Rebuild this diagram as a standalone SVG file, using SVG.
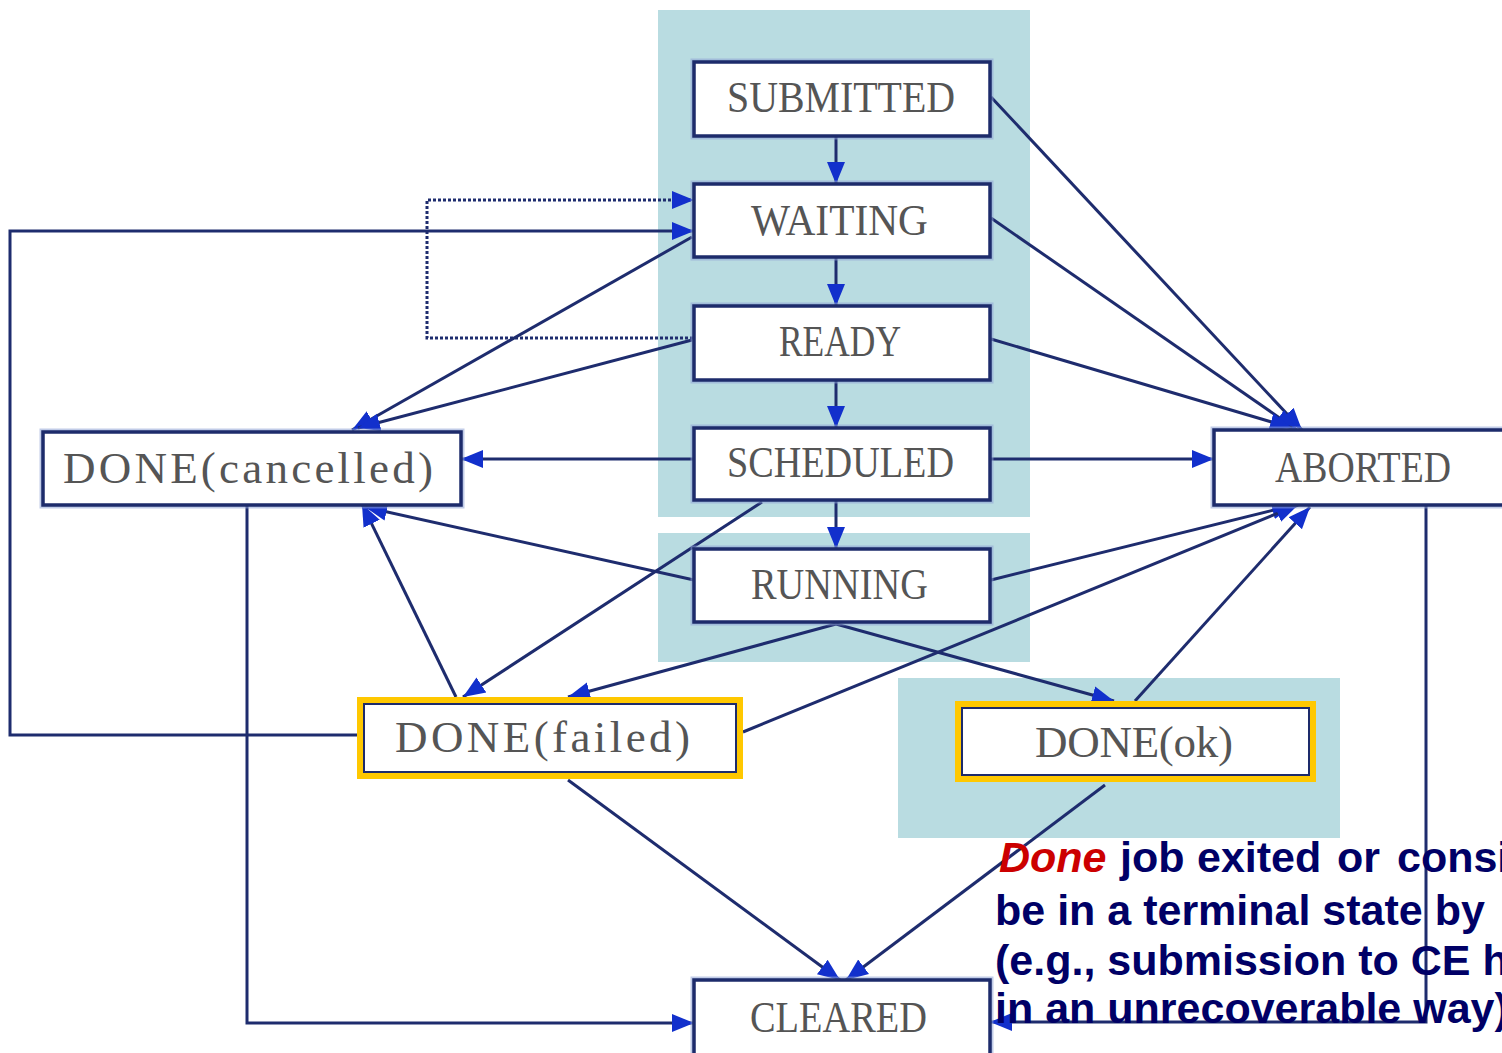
<svg xmlns="http://www.w3.org/2000/svg" width="1502" height="1053" viewBox="0 0 1502 1053">
  <style>
    .panel { fill: #b9dce1; }
    .box { fill: #ffffff; stroke: #1d2b6b; stroke-width: 3.5; }
    .halo { fill: none; stroke: #8ea3d6; stroke-width: 7; opacity: 0.55; }
    .done { fill: none; stroke: #ffc800; stroke-width: 6; }
    .inner { fill: #ffffff; stroke: #1d2b6b; stroke-width: 2; }
    .label { font-family: "Liberation Serif", "Times New Roman", serif; font-size: 45px; fill: #555555; }
    .edge { fill: none; stroke: #1e2c6e; stroke-width: 3; marker-end: url(#arrow); }
    .dotted { fill: none; stroke: #1e2c6e; stroke-width: 3; stroke-dasharray: 3 2; marker-end: url(#arrow); }
    .note { font-family: "Liberation Sans", Arial, sans-serif; font-size: 43px; font-weight: bold; fill: #000066; }
    .hl { fill: #cc0000; font-style: italic; }
  </style>
  <defs>
    <marker id="arrow" markerUnits="userSpaceOnUse" markerWidth="24" markerHeight="22" refX="22" refY="10" orient="auto">
      <path d="M0,1 L22,10 L0,19 z" fill="#1230cc"/>
    </marker>
  </defs>

  <rect x="0" y="0" width="1502" height="1053" fill="#ffffff"/>

  <!-- shaded state groups -->
  <g id="panels">
    <rect class="panel" x="658" y="10" width="372" height="507"/>
    <rect class="panel" x="658" y="533" width="372" height="129"/>
    <rect class="panel" x="898" y="678" width="442" height="160"/>
  </g>

  <!-- transitions -->
  <g id="connectors">
    <!-- main chain -->
    <line class="edge" x1="836" y1="137" x2="836" y2="184"/>
    <line class="edge" x1="836" y1="258" x2="836" y2="306"/>
    <line class="edge" x1="836" y1="381" x2="836" y2="428"/>
    <line class="edge" x1="836" y1="501" x2="836" y2="549"/>

    <!-- to ABORTED (top) -->
    <line class="edge" x1="991" y1="97" x2="1302" y2="430"/>
    <line class="edge" x1="991" y1="218" x2="1297" y2="430"/>
    <line class="edge" x1="991" y1="339" x2="1292" y2="428"/>
    <line class="edge" x1="991" y1="459" x2="1214" y2="459"/>

    <!-- to DONE(cancelled) -->
    <line class="edge" x1="693" y1="459" x2="461" y2="459"/>
    <line class="edge" x1="692" y1="237" x2="352" y2="430"/>
    <line class="edge" x1="692" y1="340" x2="358" y2="428"/>
    <line class="edge" x1="694" y1="580" x2="365" y2="507"/>
    <line class="edge" x1="456" y1="697" x2="362" y2="504"/>

    <!-- to DONE(failed) -->
    <line class="edge" x1="762" y1="502" x2="463" y2="697"/>
    <line class="edge" x1="836" y1="624" x2="568" y2="697"/>

    <!-- to DONE(ok) -->
    <line class="edge" x1="836" y1="624" x2="1114" y2="701"/>

    <!-- to ABORTED (bottom) -->
    <line class="edge" x1="991" y1="580" x2="1294" y2="505"/>
    <line class="edge" x1="743" y1="732" x2="1298" y2="505"/>
    <line class="edge" x1="1135" y1="701" x2="1310" y2="507"/>

    <!-- to CLEARED -->
    <line class="edge" x1="568" y1="780" x2="840" y2="980"/>
    <line class="edge" x1="1105" y1="785" x2="846" y2="980"/>
    <polyline class="edge" points="247,506 247,1023 694,1023"/>
    <polyline class="edge" points="1426,506 1426,1022 990,1022"/>

    <!-- resubmission loops back to WAITING -->
    <polyline class="edge" points="357,735 10,735 10,231 694,231"/>
    <polyline class="dotted" points="693,338 427,338 427,200 694,200"/>
  </g>

  <!-- states -->
  <g id="node-submitted">
    <rect class="halo" x="694" y="62" width="296" height="74"/>
    <rect class="box" x="694" y="62" width="296" height="74"/>
    <text class="label" x="727" y="112" textLength="228" lengthAdjust="spacingAndGlyphs">SUBMITTED</text>
  </g>
  <g id="node-waiting">
    <rect class="halo" x="694" y="184" width="296" height="73"/>
    <rect class="box" x="694" y="184" width="296" height="73"/>
    <text class="label" x="751" y="235" textLength="177" lengthAdjust="spacingAndGlyphs">WAITING</text>
  </g>
  <g id="node-ready">
    <rect class="halo" x="694" y="306" width="296" height="74"/>
    <rect class="box" x="694" y="306" width="296" height="74"/>
    <text class="label" x="779" y="356" textLength="122" lengthAdjust="spacingAndGlyphs">READY</text>
  </g>
  <g id="node-scheduled">
    <rect class="halo" x="694" y="428" width="296" height="72"/>
    <rect class="box" x="694" y="428" width="296" height="72"/>
    <text class="label" x="727" y="477" textLength="227" lengthAdjust="spacingAndGlyphs">SCHEDULED</text>
  </g>
  <g id="node-running">
    <rect class="halo" x="694" y="549" width="296" height="73"/>
    <rect class="box" x="694" y="549" width="296" height="73"/>
    <text class="label" x="751" y="599" textLength="177" lengthAdjust="spacingAndGlyphs">RUNNING</text>
  </g>
  <g id="node-done-cancelled">
    <rect class="halo" x="43" y="432" width="418" height="73"/>
    <rect class="box" x="43" y="432" width="418" height="73"/>
    <text class="label" x="63" y="483" textLength="370" lengthAdjust="spacing">DONE(cancelled)</text>
  </g>
  <g id="node-aborted">
    <rect class="halo" x="1214" y="430" width="300" height="75"/>
    <rect class="box" x="1214" y="430" width="300" height="75"/>
    <text class="label" x="1275" y="482" textLength="176" lengthAdjust="spacingAndGlyphs">ABORTED</text>
  </g>
  <g id="node-done-failed">
    <rect class="done" x="360" y="700" width="380" height="76"/>
    <rect class="inner" x="364" y="704" width="372" height="68"/>
    <text class="label" x="395" y="752" textLength="295" lengthAdjust="spacing">DONE(failed)</text>
  </g>
  <g id="node-done-ok">
    <rect class="done" x="958" y="704" width="355" height="75"/>
    <rect class="inner" x="962" y="708" width="347" height="67"/>
    <text class="label" x="1035" y="757" textLength="198" lengthAdjust="spacing">DONE(ok)</text>
  </g>
  <g id="node-cleared">
    <rect class="halo" x="694" y="980" width="296" height="80"/>
    <rect class="box" x="694" y="980" width="296" height="80"/>
    <text class="label" x="750" y="1032" textLength="177" lengthAdjust="spacingAndGlyphs">CLEARED</text>
  </g>

  <!-- explanation of the Done state -->
  <g id="note">
    <text class="note" y="872"><tspan class="hl" x="999">Done</tspan><tspan x="1120">job</tspan><tspan x="1197">exited</tspan><tspan x="1337">or</tspan><tspan x="1397">consi</tspan></text>
    <text class="note" x="995" y="925">be in a terminal state by</text>
    <text class="note" x="995" y="975">(e.g., submission to CE h</text>
    <text class="note" x="995" y="1023">in an unrecoverable way)</text>
  </g>
</svg>
